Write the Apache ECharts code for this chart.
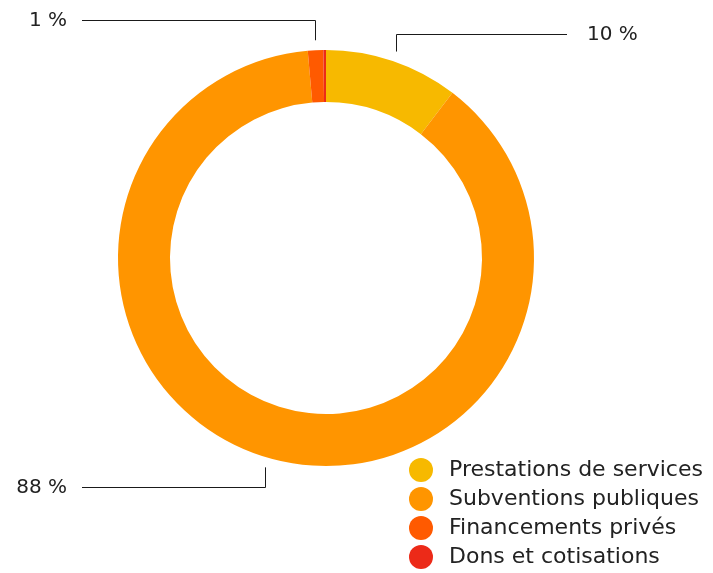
<!DOCTYPE html>
<html>
<head>
<meta charset="utf-8">
<script src="https://cdn.jsdelivr.net/npm/echarts@6/dist/echarts.min.js"></script>
<style>
	html, body { margin: 0; padding: 0; background: #fff; }
	#chart { width: 713px; height: 573px; }
</style>
</head>
<body>
<div id="chart"></div>
<script>
var categories = ["Prestations de services", "Subventions publiques", "Financements privés", "Dons et cotisations"];
var values = [10.4, 88.2, 1.2, 0.2];
var showLabel = [true, true, true, false];
var color = ["#F7B900", "#FF9500", "#FF5A00", "#EC2A18"];

var font = "DejaVu Sans";
var textColor = "#222";
var cx = 326, cy = 258, outerR = 208, innerR = 156;

// où poser chaque étiquette (y de la ligne, bout horizontal, côté)
var labelSpots = [
	{ y: 34.5, end: 567, side: "right" },
	{ y: 487.5, end: 82, side: "left" },
	{ y: 20.5, end: 82, side: "left" }
];

function Doughnut(dom) {
	var myChart = echarts.init(dom, null, { renderer: "canvas" });
	var data = categories.map(function (name, i) {
		return {
			name: name,
			value: values[i],
			label: { show: showLabel[i] },
			labelLine: { show: showLabel[i] }
		};
	});
	var option = {
		animation: false,
		color: color,
		legend: {
			orient: "vertical",
			left: 409,
			top: 458,
			padding: 0,
			itemWidth: 46,
			itemHeight: 24,
			itemGap: 5,
			icon: "circle",
			symbolKeepAspect: true,
			textStyle: { fontFamily: font, fontSize: 22, color: textColor },
			data: categories
		},
		series: [
			{
				type: "pie",
				center: [cx, cy],
				radius: [innerR, outerR],
				startAngle: 90,
				clockwise: true,
				avoidLabelOverlap: false,
				label: {
					formatter: function (p) {
						return Math.round(p.percent) + " %";
					},
					fontFamily: font,
					fontSize: 20,
					color: textColor
				},
				labelLine: {
					show: true,
					length: 10,
					length2: 10,
					lineStyle: { color: "#1a1a1a", width: 1 }
				},
				labelLayout: function (params) {
					var s = labelSpots[params.dataIndex];
					if (!s || !params.labelLinePoints) return;
					var p = params.labelLinePoints[0];
					var dx = p[0] - cx, dy = p[1] - cy;
					var len = Math.sqrt(dx * dx + dy * dy);
					var sx = Math.round(cx + dx / len * (outerR + 10)) + 0.5;
					var sy = cy + dy / len * (outerR + 10);
					return {
						x: s.side === "right" ? s.end + 20 : s.end - 15,
						y: s.y,
						align: s.side === "right" ? "left" : "right",
						verticalAlign: "middle",
						labelLinePoints: [[sx, sy], [sx, s.y], [s.end, s.y]]
					};
				},
				data: data
			}
		]
	};
	myChart.setOption(option);
	window.addEventListener("resize", myChart.resize);
}

Doughnut(document.getElementById("chart"));
</script>
</body>
</html>
